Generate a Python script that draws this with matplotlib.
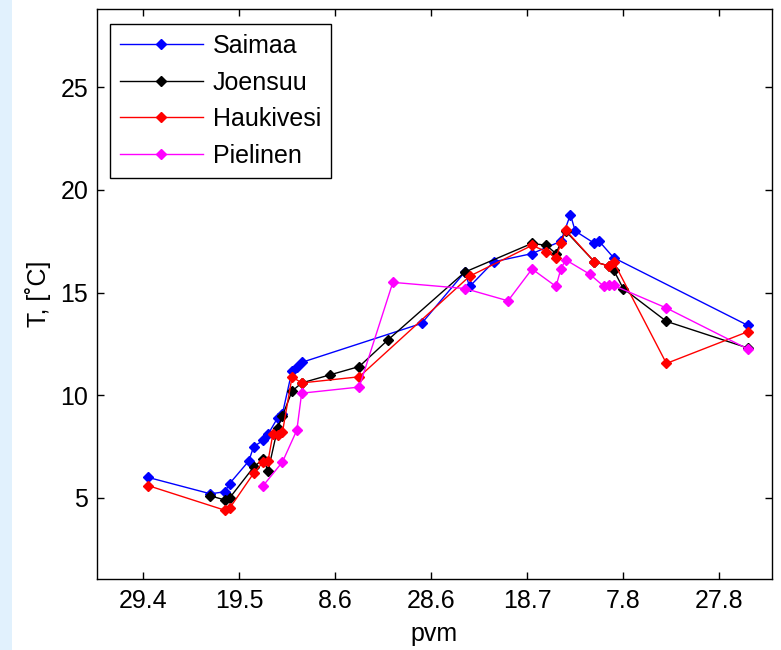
import datetime
import matplotlib
matplotlib.use("Agg")
import matplotlib.pyplot as plt
from matplotlib.patches import Rectangle

saimaa_dates = ["30.4", "13.5", "16.5", "17.5", "21.5", "22.5", "24.5", "25.5", "27.5",
                "28.5", "30.5", "31.5", "1.6", "26.6", "5.7", "6.7", "11.7", "19.7",
                "25.7", "27.7", "28.7", "1.8", "2.8", "5.8", "2.9"]
saimaa_T = [6.0, 5.2, 5.3, 5.7, 6.8, 7.5, 7.8, 8.1, 8.9, 9.1, 11.2, 11.4, 11.6, 13.5,
            16.0, 15.3, 16.5, 16.9, 17.5, 18.8, 18.0, 17.4, 17.5, 16.7, 13.4]

joensuu_dates = ["13.5", "16.5", "17.5", "22.5", "24.5", "25.5", "27.5", "28.5", "30.5",
                 "1.6", "7.6", "13.6", "19.6", "5.7", "19.7", "22.7", "24.7", "26.7",
                 "1.8", "4.8", "5.8", "7.8", "16.8", "2.9"]
joensuu_T = [5.1, 4.9, 5.0, 6.5, 6.9, 6.3, 8.4, 9.0, 10.2, 10.6, 11.0, 11.4, 12.7,
             16.0, 17.4, 17.3, 16.9, 18.0, 16.5, 16.3, 16.1, 15.2, 13.6, 12.3]

haukivesi_dates = ["30.4", "16.5", "17.5", "22.5", "24.5", "25.5", "26.5", "27.5", "28.5",
                   "30.5", "1.6", "13.6", "6.7", "19.7", "22.7", "24.7", "25.7", "26.7",
                   "1.8", "4.8", "5.8", "16.8", "2.9"]
haukivesi_T = [5.6, 4.4, 4.5, 6.2, 6.75, 6.8, 8.1, 8.05, 8.2, 10.9, 10.6, 10.9, 15.8,
               17.3, 17.0, 16.7, 17.4, 18.05, 16.5, 16.3, 16.5, 11.55, 13.1]

pielinen_dates = ["24.5", "28.5", "31.5", "1.6", "13.6", "20.6", "5.7", "14.7", "19.7",
                  "24.7", "25.7", "26.7", "31.7", "3.8", "4.8", "5.8", "16.8", "2.9"]
pielinen_T = [5.6, 6.75, 8.3, 10.1, 10.4, 15.5, 15.2, 14.6, 16.15, 15.3, 16.15, 16.6,
              15.9, 15.3, 15.35, 15.35, 14.25, 12.25]

tick_dates = ["29.4", "19.5", "8.6", "28.6", "18.7", "7.8", "27.8"]


def day_of_year(s):
    d, m = s.split(".")
    return datetime.date(2010, int(m), int(d)).timetuple().tm_yday


plt.rcParams["font.family"] = ["Liberation Sans", "DejaVu Sans"]

fig = plt.figure(figsize=(7.81, 6.5), dpi=100)
fig.patches.append(Rectangle((0, 0), 12 / 781, 1, transform=fig.transFigure,
                             facecolor="#e1f1fd", edgecolor="none", zorder=0))
ax = fig.add_axes([96.7 / 781, 71 / 650, 675.3 / 781, 569.7 / 650])

series = [
    ("Saimaa", saimaa_dates, saimaa_T, "#0000ff"),
    ("Joensuu", joensuu_dates, joensuu_T, "#000000"),
    ("Haukivesi", haukivesi_dates, haukivesi_T, "#ff0000"),
    ("Pielinen", pielinen_dates, pielinen_T, "#ff00ff"),
]
for name, dates, temps, col in series:
    x = [day_of_year(s) for s in dates]
    ax.plot(x, temps, "-", color=col, lw=1.0, marker="D", ms=5.5,
            mec=col, mfc=col, label=name)

ax.set_xlim(109.3, 250)
ax.set_ylim(1.05, 28.8)
ax.set_xticks([day_of_year(s) for s in tick_dates])
ax.set_xticklabels(tick_dates)
ax.set_yticks([5, 10, 15, 20, 25])

ax.tick_params(direction="in", top=True, right=True, length=5, width=1,
               labelsize=18)
ax.tick_params(axis="x", pad=7)
ax.tick_params(axis="y", pad=6)
for sp in ax.spines.values():
    sp.set_linewidth(1.0)

ax.set_xlabel("pvm", fontsize=18, labelpad=7)
ax.set_ylabel("T, [\u02daC]", fontsize=18, labelpad=7)

leg = ax.legend(loc="upper left", bbox_to_anchor=(0.0197, 0.974), borderaxespad=0,
                fontsize=18, handlelength=3.3, handletextpad=0.4,
                labelspacing=0.5, borderpad=0.4, fancybox=False,
                framealpha=1, edgecolor="black")
leg.get_frame().set_linewidth(1.0)

fig.savefig("out.png", dpi=100)
